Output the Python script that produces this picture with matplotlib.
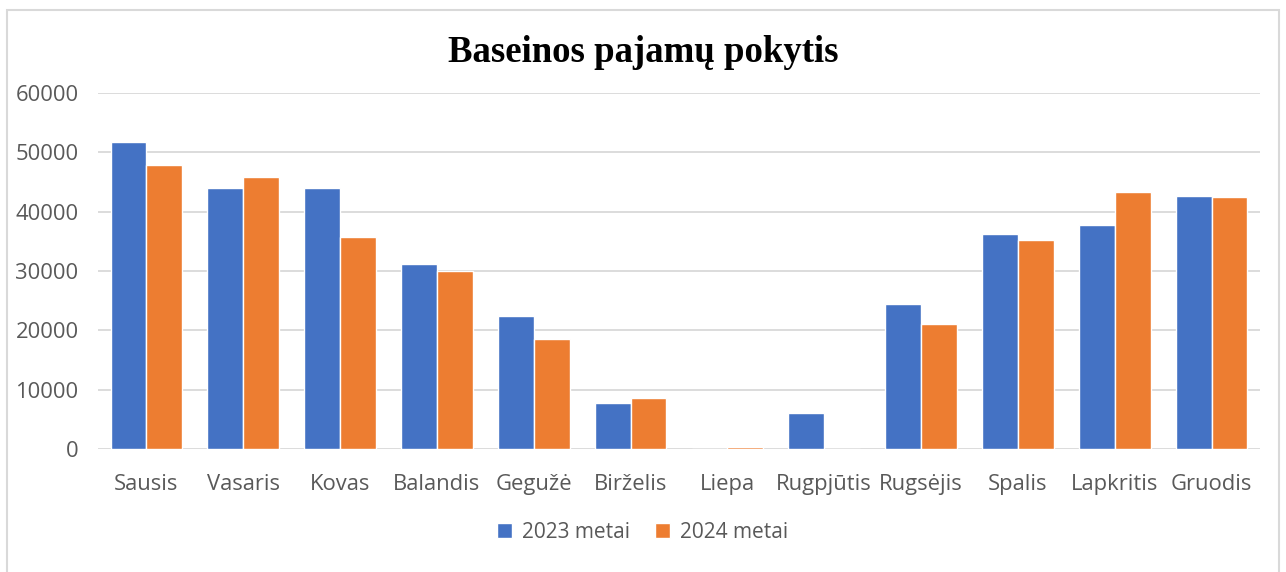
import matplotlib
matplotlib.use("Agg")
import matplotlib.pyplot as plt
import numpy as np
from matplotlib.patches import Rectangle

months = ["Sausis", "Vasaris", "Kovas", "Balandis", "Gegužė", "Birželis",
          "Liepa", "Rugpjūtis", "Rugsėjis", "Spalis", "Lapkritis", "Gruodis"]
series_names = ["2023 metai", "2024 metai"]
values_2023 = [51800, 44000, 44000, 31100, 22500, 7700, 0, 6100, 24500, 36300, 37800, 42600]
values_2024 = [47800, 45900, 35800, 30000, 18600, 8600, 400, 0, 21100, 35200, 43300, 42400]
yticks = [0, 10000, 20000, 30000, 40000, 50000, 60000]
title = "Baseinos pajamų pokytis"

blue = "#4472C4"
orange = "#ED7D31"
text_gray = "#595959"
grid_gray = "#D9D9D9"

plt.rcParams['font.family'] = ['Open Sans', 'DejaVu Sans']

fig = plt.figure(figsize=(12.86, 5.72), dpi=100)
ax = fig.add_axes([98/1286, 123/572, (1260-98)/1286, (449-93)/572])

x = np.arange(len(months))
w = 0.37
ax.bar(x - w/2, values_2023, width=w, color=blue, edgecolor="white", linewidth=1, label=series_names[0], zorder=3)
ax.bar(x + w/2, values_2024, width=w, color=orange, edgecolor="white", linewidth=1, label=series_names[1], zorder=3)

ax.set_xlim(-0.5, len(months) - 0.5)
ax.set_ylim(0, 60000)
ax.set_yticks(yticks)
ax.set_yticklabels([str(t) for t in yticks])
ax.set_xticks(x)
ax.set_xticklabels(months)
ax.tick_params(axis='both', length=0, labelsize=15.8, colors=text_gray)
ax.tick_params(axis='y', pad=14)
ax.tick_params(axis='x', pad=18)
ax.yaxis.grid(True, color=grid_gray, linewidth=1.3, zorder=0)
ax.set_axisbelow(True)
for s in ax.spines.values():
    s.set_visible(False)

fig.text(0.5, 1 - 53/572, title, ha='center', va='center', fontsize=26.5,
         fontweight='bold', family=['Liberation Serif'], color='black')

leg = fig.legend(loc='center', bbox_to_anchor=(0.5, 1 - 532/572), ncol=2, frameon=False,
                 fontsize=15, handlelength=0.7, handleheight=0.7, handletextpad=0.5,
                 columnspacing=1.2, labelcolor=text_gray)

fig.add_artist(Rectangle((7/1286, -0.05), (1279-7)/1286, (1 - 10/572) + 0.05,
                         transform=fig.transFigure, fill=False,
                         edgecolor=grid_gray, linewidth=1.5))

fig.savefig("out.png", dpi=100)
